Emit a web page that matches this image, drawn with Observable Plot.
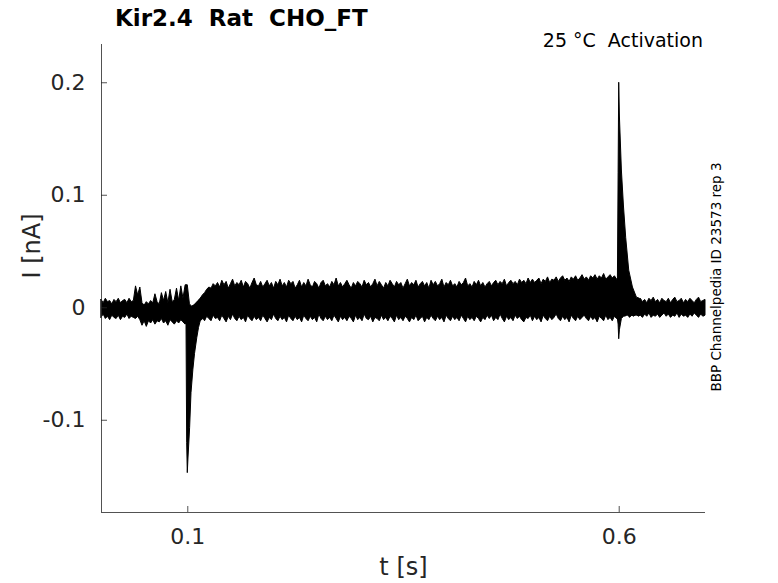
<!DOCTYPE html>
<html><head><meta charset="utf-8">
<script src="https://cdn.jsdelivr.net/npm/d3@7"></script>
<script src="https://cdn.jsdelivr.net/npm/@observablehq/plot@0.6"></script>
<style>
body{margin:0;background:#fff;}
#wrap{position:relative;width:778px;height:583px;font-family:"DejaVu Sans",sans-serif;overflow:hidden;}
#wrap svg{position:absolute;left:0;top:0;}
.t{position:absolute;white-space:pre;color:#000;line-height:1;}
</style></head><body><div id="wrap">
<div class="t" style="left:115px;top:6.5px;font-size:23px;font-weight:bold;">Kir2.4  Rat  CHO_FT</div>
<div class="t" style="right:75px;top:31px;font-size:19px;">25 °C  Activation</div>
<div class="t" style="left:717px;top:277px;font-size:13.5px;transform:translate(-50%,-50%) rotate(-90deg);">BBP Channelpedia ID 23573 rep 3</div>
</div>
<script>
// axes
const xDomain = [0, 0.7];
const yDomain = [-0.182, 0.234];
const xTicks = [0.1, 0.6];
const xTickLabels = ["0.1", "0.6"];
const yTicks = [0.2, 0.1, 0, -0.1];
const yTickLabels = ["0.2", "0.1", "0", "-0.1"];

// envelope of the overlaid current sweeps (nA), sampled every 2.5 ms from t = 0
const bandStart = 0, bandStep = 0.0025;
const bandHi = [
 0.007, 0.004, 0.008, 0.005, 0.006, 0.003, 0.007, 0.005, 0.008, 0.004, 0.006, 0.007, 0.004, 0.008, 0.005, 0.006,
 0.019, 0.011, 0.018,
 0.004, 0.002, 0.005,
 0.003, 0.006, 0.004, 0.012, 0.005, 0.003, 0.013, 0.006, 0.014, 0.004, 0.016, 0.005, 0.007, 0.017, 0.006, 0.019, 0.008, 0.020,
 0.020,
 0.003, 0.001, 0.002, 0.004, 0.006,
 0.008, 0.011, 0.013, 0.016, 0.018, 0.017, 0.021, 0.019,
 0.022, 0.018, 0.024, 0.020, 0.023, 0.017, 0.021, 0.025, 0.019, 0.022,
 0.020, 0.024, 0.018, 0.023, 0.021, 0.017, 0.022, 0.026, 0.020, 0.019,
 0.023, 0.018, 0.021, 0.024, 0.019, 0.022, 0.017, 0.023, 0.020, 0.025,
 0.019, 0.022, 0.018, 0.024, 0.021, 0.023, 0.017, 0.020, 0.024, 0.018,
 0.022, 0.019, 0.025, 0.020, 0.018, 0.023, 0.021, 0.017, 0.022, 0.024,
 0.019, 0.021, 0.018, 0.023, 0.020, 0.026, 0.019, 0.022, 0.018, 0.021,
 0.024, 0.020, 0.017, 0.022, 0.019, 0.023, 0.021, 0.018, 0.024, 0.020,
 0.022, 0.018, 0.021, 0.025, 0.019, 0.023, 0.020, 0.017, 0.022, 0.019,
 0.024, 0.021, 0.018, 0.023, 0.020, 0.022, 0.017, 0.021, 0.025, 0.019,
 0.022, 0.020, 0.024, 0.018, 0.021, 0.023, 0.019, 0.022, 0.017, 0.024,
 0.020, 0.023, 0.019, 0.021, 0.025, 0.018, 0.022, 0.020, 0.024, 0.019,
 0.021, 0.018, 0.023, 0.020, 0.022, 0.026, 0.019, 0.021, 0.018, 0.023,
 0.020, 0.024, 0.019, 0.022, 0.018, 0.021,
 0.023, 0.019, 0.022, 0.024, 0.020, 0.023, 0.021, 0.025, 0.019, 0.022,
 0.024, 0.021, 0.023, 0.020, 0.025, 0.022, 0.024, 0.021, 0.026, 0.022,
 0.025, 0.022, 0.024, 0.026, 0.021, 0.025, 0.023, 0.027, 0.022, 0.025,
 0.024, 0.027, 0.023, 0.026, 0.028, 0.024, 0.026, 0.023, 0.027, 0.025,
 0.028, 0.024, 0.026, 0.029, 0.025, 0.027, 0.024, 0.028, 0.026, 0.029,
 0.025, 0.028, 0.026, 0.030, 0.025, 0.027, 0.029, 0.026, 0.028, 0.025,
 0.027,
 0.014, 0.011, 0.010, 0.009, 0.008, 0.009, 0.007, 0.008, 0.006,
 0.008, 0.005, 0.007, 0.004, 0.008, 0.006, 0.009, 0.005, 0.007, 0.004, 0.008, 0.006, 0.005, 0.008, 0.004, 0.007,
 0.009, 0.005, 0.006, 0.008, 0.004, 0.007, 0.005, 0.008, 0.006, 0.004, 0.007, 0.009, 0.005, 0.006, 0.007
];
const bandLo = [
 -0.009, -0.006, -0.010, -0.008, -0.011, -0.007, -0.009, -0.010, -0.007, -0.011, -0.008, -0.009, -0.006, -0.010, -0.008, -0.009,
 -0.010, -0.008, -0.011,
 -0.016, -0.012, -0.017,
 -0.012, -0.014, -0.011, -0.015, -0.012, -0.013, -0.010, -0.014, -0.012, -0.016, -0.011, -0.013, -0.015, -0.012, -0.014, -0.011, -0.013, -0.015,
 -0.013,
 -0.014, -0.013, -0.012, -0.011, -0.010,
 -0.011, -0.009, -0.012, -0.008, -0.010, -0.012, -0.007, -0.010,
 -0.009, -0.012, -0.007, -0.010, -0.013, -0.008, -0.011, -0.006, -0.010, -0.012,
 -0.008, -0.011, -0.009, -0.013, -0.007, -0.010, -0.012, -0.008, -0.011, -0.009,
 -0.012, -0.007, -0.010, -0.013, -0.009, -0.011, -0.006, -0.010, -0.012, -0.008,
 -0.011, -0.009, -0.013, -0.007, -0.010, -0.012, -0.008, -0.011, -0.009, -0.013,
 -0.007, -0.010, -0.012, -0.008, -0.011, -0.009, -0.013, -0.006, -0.010, -0.012,
 -0.008, -0.011, -0.009, -0.012, -0.007, -0.010, -0.013, -0.008, -0.011, -0.009,
 -0.012, -0.008, -0.010, -0.013, -0.007, -0.011, -0.009, -0.012, -0.006, -0.010,
 -0.011, -0.008, -0.013, -0.009, -0.010, -0.012, -0.007, -0.011, -0.009, -0.012,
 -0.008, -0.010, -0.013, -0.007, -0.011, -0.009, -0.012, -0.008, -0.010, -0.013,
 -0.009, -0.011, -0.007, -0.012, -0.010, -0.008, -0.013, -0.009, -0.011, -0.007,
 -0.010, -0.012, -0.008, -0.011, -0.009, -0.013, -0.007, -0.010, -0.012, -0.008,
 -0.011, -0.009, -0.012, -0.007, -0.010, -0.013, -0.008, -0.011, -0.009, -0.012,
 -0.008, -0.010, -0.013, -0.009, -0.011, -0.007,
 -0.010, -0.007, -0.012, -0.009, -0.011, -0.006, -0.010, -0.013, -0.008, -0.011,
 -0.009, -0.012, -0.007, -0.010, -0.008, -0.011, -0.013, -0.009, -0.010, -0.007,
 -0.012, -0.008, -0.011, -0.009, -0.013, -0.007, -0.010, -0.012, -0.008, -0.011,
 -0.009, -0.006, -0.010, -0.012, -0.008, -0.011, -0.009, -0.013, -0.007, -0.010,
 -0.012, -0.008, -0.011, -0.009, -0.007, -0.010, -0.012, -0.008, -0.011, -0.009,
 -0.013, -0.008, -0.010, -0.012, -0.007, -0.011, -0.009, -0.012, -0.008, -0.010,
 -0.012,
 -0.009, -0.007, -0.008, -0.006, -0.009, -0.007, -0.008, -0.006, -0.008,
 -0.007, -0.009, -0.006, -0.008, -0.005, -0.009, -0.007, -0.008, -0.006, -0.009, -0.007, -0.005, -0.008, -0.006, -0.009, -0.007,
 -0.008, -0.005, -0.009, -0.006, -0.008, -0.007, -0.009, -0.006, -0.008, -0.005, -0.007, -0.009, -0.006, -0.008, -0.007
];

// capacitive transient at step onset (t = 0.1 s)
const onT  = [0.0985, 0.0993, 0.1000, 0.1008, 0.1027, 0.1043, 0.1065, 0.1084, 0.1110, 0.1130, 0.1150, 0.1180];
const onLo = [-0.012, -0.120, -0.147, -0.134, -0.107, -0.076, -0.055, -0.041, -0.027, -0.018, -0.012, -0.010];
const onHi = [0.010, 0.006, 0.004, 0.002, 0.001, 0.000, 0.001, 0.002, 0.004, 0.006, 0.008, 0.010];

// tail transient at step offset (t = 0.6 s)
const offT  = [0.5985, 0.5993, 0.6000, 0.6008, 0.6031, 0.6055, 0.6081, 0.6116, 0.6159, 0.6205, 0.6240];
const offHi = [0.026, 0.120, 0.200, 0.170, 0.122, 0.090, 0.062, 0.033, 0.018, 0.009, 0.008];
const offLo = [-0.010, -0.015, -0.028, -0.020, -0.010, -0.008, -0.007, -0.007, -0.007, -0.007, -0.007];

const n = Math.min(bandHi.length, bandLo.length);
const band = bandHi.slice(0, n).map((h, i) => ({t: bandStart + i * bandStep, lo: bandLo[i], hi: h}));
const onRows = onT.map((t, i) => ({t, lo: onLo[i], hi: onHi[i]}));
const offRows = offT.map((t, i) => ({t, lo: offLo[i], hi: offHi[i]}));
const yTickRows = yTicks.map((v, i) => ({v, label: yTickLabels[i]}));
const xTickRows = xTicks.map((v, i) => ({v, label: xTickLabels[i]}));

const W = 778, H = 583, mL = 101, mR = 73, mT = 44, mB = 71;
const innerW = W - mL - mR, innerH = H - mT - mB, tickLen = 6;
const axisColor = "#262626";

const chart = Plot.plot({
  width: W, height: H,
  marginLeft: mL, marginRight: mR, marginTop: mT, marginBottom: mB,
  x: {domain: xDomain, axis: null},
  y: {domain: yDomain, axis: null},
  style: {fontFamily: "DejaVu Sans, sans-serif", background: "transparent", overflow: "visible"},
  marks: [
    Plot.areaY(band, {x: "t", y1: "lo", y2: "hi", fill: "#000", stroke: "#000", strokeWidth: 1}),
    Plot.areaY(onRows, {x: "t", y1: "lo", y2: "hi", fill: "#000", stroke: "#000", strokeWidth: 1}),
    Plot.areaY(offRows, {x: "t", y1: "lo", y2: "hi", fill: "#000", stroke: "#000", strokeWidth: 1}),
    Plot.ruleX([xDomain[0]], {stroke: axisColor, strokeWidth: 0.8}),
    Plot.ruleY([yDomain[0]], {stroke: axisColor, strokeWidth: 0.8}),
    Plot.tickY(yTickRows, {y: "v", insetRight: innerW - tickLen, stroke: axisColor, strokeWidth: 0.8}),
    Plot.tickX(xTickRows, {x: "v", insetTop: innerH - tickLen, stroke: axisColor, strokeWidth: 0.8}),
    Plot.text(yTickRows, {y: "v", text: "label", frameAnchor: "left", textAnchor: "end", dx: -16, fontSize: 22, fill: axisColor}),
    Plot.text(xTickRows, {x: "v", text: "label", frameAnchor: "bottom", lineAnchor: "middle", dy: 24, fontSize: 22, fill: axisColor}),
    Plot.text(["t [s]"], {text: d => d, frameAnchor: "bottom", lineAnchor: "middle", dy: 55, fontSize: 24, fill: axisColor}),
    Plot.text(["I [nA]"], {text: d => d, frameAnchor: "left", rotate: -90, dx: -69, fontSize: 24, fill: axisColor})
  ]
});
document.getElementById("wrap").prepend(chart);
</script>
</body></html>
